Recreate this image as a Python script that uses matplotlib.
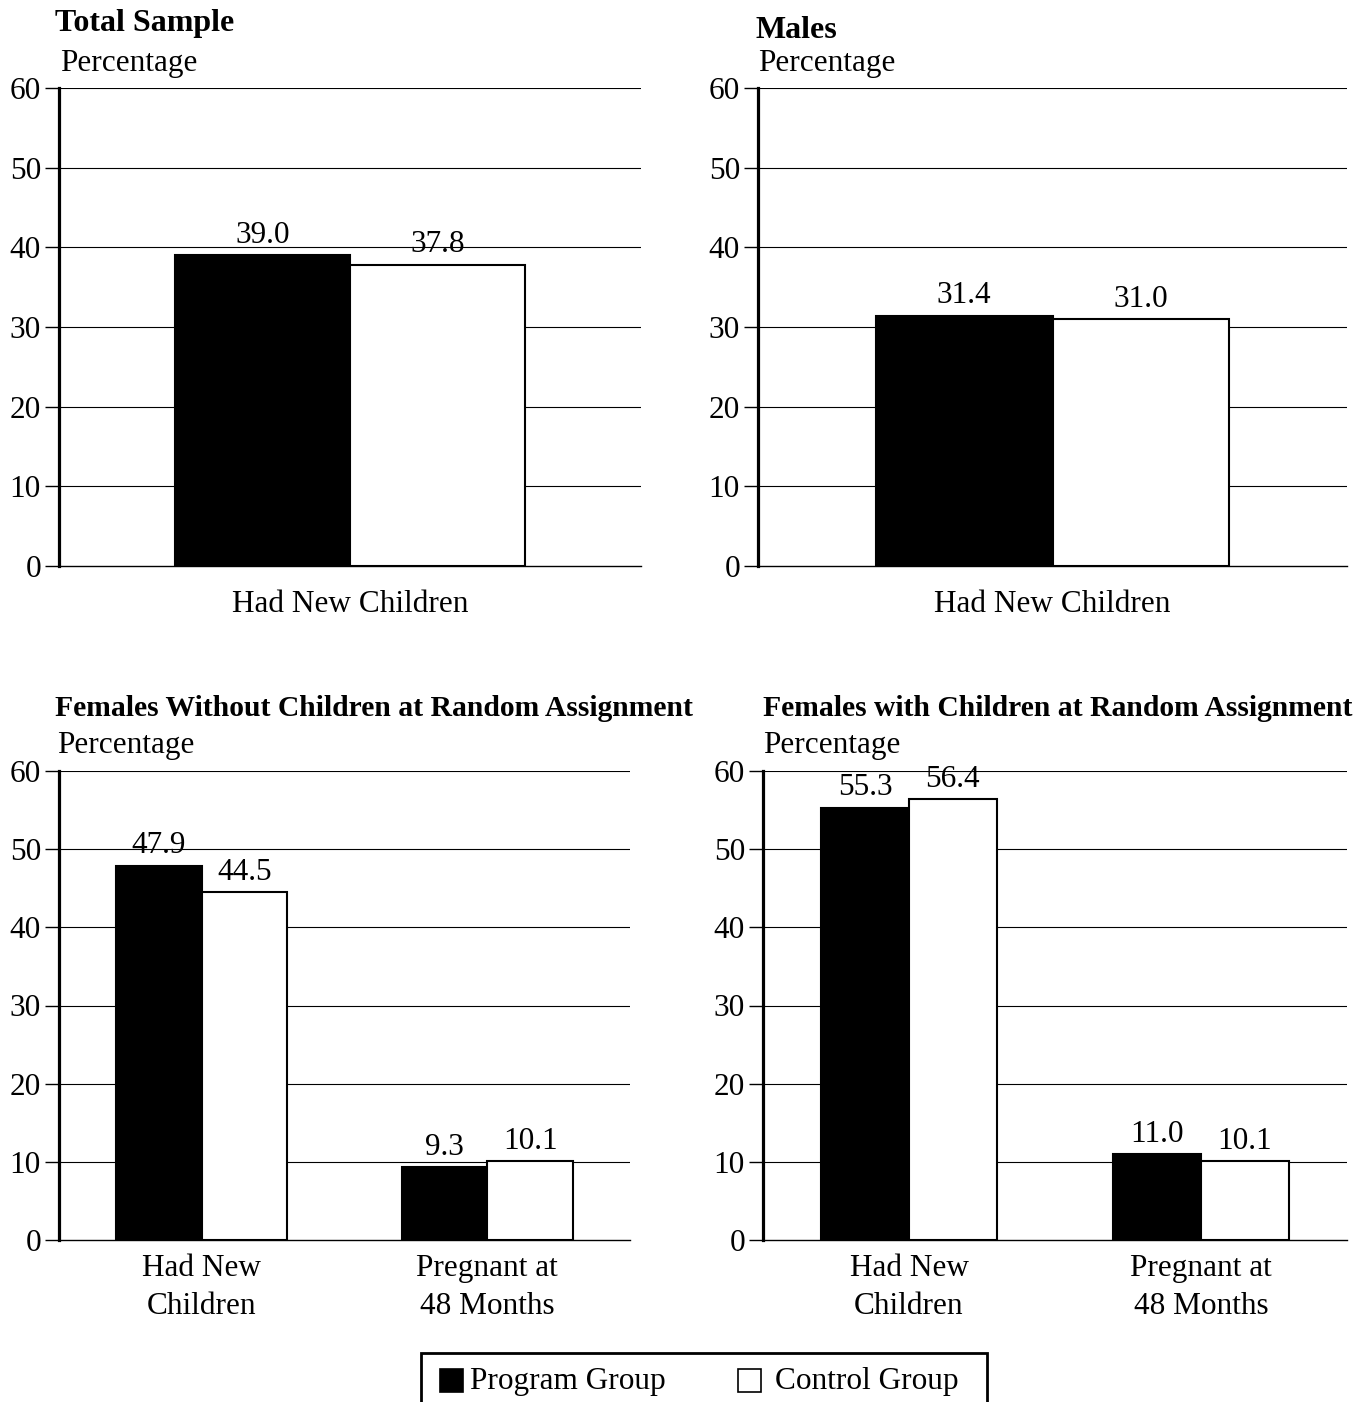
import matplotlib
matplotlib.use("Agg")
import matplotlib.pyplot as plt
from matplotlib.patches import Rectangle
import numpy as np

plt.rcParams['font.family'] = ['Liberation Serif', 'DejaVu Serif']

# Data
titles = ["Total Sample", "Males",
          "Females Without Children at Random Assignment",
          "Females with Children at Random Assignment"]
cats_top = ["Had New Children"]
cats_bottom = ["Had New\nChildren", "Pregnant at\n48 Months"]
program_total = [39.0]
control_total = [37.8]
program_males = [31.4]
control_males = [31.0]
program_fwo = [47.9, 9.3]
control_fwo = [44.5, 10.1]
program_fw = [55.3, 11.0]
control_fw = [56.4, 10.1]
yticks = [0, 10, 20, 30, 40, 50, 60]
legend_labels = ["Program Group", "Control Group"]

W, H = 1369, 1402
fig = plt.figure(figsize=(W / 100, H / 100), dpi=100)

def ax_at(x0, x1, ytop, ybot):
    return fig.add_axes([x0 / W, 1 - ybot / H, (x1 - x0) / W, (ybot - ytop) / H])

panels = [
    (ax_at(59, 641, 88, 566), titles[0], cats_top, program_total, control_total, 23, (55, 24), (60, 64), 17),
    (ax_at(758, 1347, 88, 566), titles[1], cats_top, program_males, control_males, 23, (755, 30), (758, 64), 17),
    (ax_at(59, 630, 771, 1240), titles[2], cats_bottom, program_fwo, control_fwo, 21.3, (55, 709), (57, 746), 10),
    (ax_at(763, 1347, 771, 1240), titles[3], cats_bottom, program_fw, control_fw, 21.3, (763, 709), (763, 746), 10),
]

FS = 22.5
bw = 0.3
for ax, title, cats, prog, ctrl, tfs, tpos, ppos, xpad in panels:
    x = np.arange(len(cats))
    ax.set_xlim(-0.5, len(cats) - 0.5)
    ax.set_ylim(0, 60)
    ax.set_yticks(yticks)
    ax.set_yticklabels([str(v) for v in yticks], fontsize=FS)
    for v in yticks[1:]:
        ax.axhline(v, color='black', lw=0.8, zorder=0)
    b1 = ax.bar(x - bw / 2, prog, bw, color='black', edgecolor='black', linewidth=1.5, zorder=2)
    b2 = ax.bar(x + bw / 2, ctrl, bw, color='white', edgecolor='black', linewidth=1.5, zorder=2)
    for bars, vals in ((b1, prog), (b2, ctrl)):
        for r, v in zip(bars, vals):
            ax.annotate(f"{v:.1f}", (r.get_x() + r.get_width() / 2, v),
                        xytext=(0, 9), textcoords='offset points',
                        ha='center', va='baseline', fontsize=FS, zorder=3)
    ax.set_xticks(x)
    ax.set_xticklabels(cats, fontsize=FS, linespacing=1.4)
    ax.tick_params(axis='x', length=0, pad=xpad)
    ax.tick_params(axis='y', length=10, width=1, pad=3, direction='out')
    for s in ('top', 'right'):
        ax.spines[s].set_visible(False)
    ax.spines['left'].set_linewidth(2.3)
    ax.spines['bottom'].set_linewidth(1.0)
    fig.text(tpos[0] / W, 1 - tpos[1] / H, title, fontsize=tfs, fontweight='bold',
             ha='left', va='center')
    fig.text(ppos[0] / W, 1 - ppos[1] / H, "Percentage", fontsize=FS, ha='left', va='center')

# Legend (drawn manually, bottom edge runs off the figure as in the reference)
def fx(px):
    return px / W

def fy(py):
    return 1 - py / H

fig.patches.append(Rectangle((fx(421), fy(1430)), fx(987) - fx(421), fy(1353) - fy(1430),
                             transform=fig.transFigure, facecolor='none',
                             edgecolor='black', linewidth=2.0))
fig.patches.append(Rectangle((fx(440), fy(1392)), fx(463) - fx(440), fy(1369) - fy(1392),
                             transform=fig.transFigure, facecolor='black',
                             edgecolor='black', linewidth=1.2))
fig.patches.append(Rectangle((fx(738), fy(1392)), fx(761) - fx(738), fy(1369) - fy(1392),
                             transform=fig.transFigure, facecolor='white',
                             edgecolor='black', linewidth=1.2))
fig.text(fx(470), fy(1382), legend_labels[0], fontsize=FS, ha='left', va='center')
fig.text(fx(775), fy(1382), legend_labels[1], fontsize=FS, ha='left', va='center')

fig.savefig("out.png", dpi=100)
